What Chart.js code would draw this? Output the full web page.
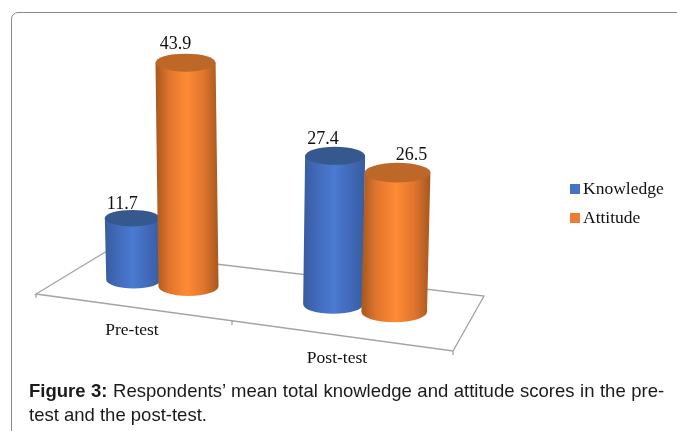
<!DOCTYPE html>
<html>
<head>
<meta charset="utf-8">
<script src="https://cdn.jsdelivr.net/npm/chart.js@4"></script>
<style>
    html, body { margin: 0; background: #fff; overflow: hidden; }
    #card {
        position: absolute; left: 11px; top: 12px; width: 680px; height: 430px;
        border: 1px solid #8a8a8a; border-top-left-radius: 7px;
    }
    #chart { position: absolute; left: 0; top: 0; }
    #caption {
        position: absolute; left: 29px; top: 379px; width: 645px;
        font: 18.5px/24px "Liberation Sans", Arial, sans-serif; color: #1a1a1a; white-space: nowrap;
    }
    #caption span { word-spacing: 0.4px; }
</style>
</head>
<body>
<div id="card"></div>
<canvas id="chart" width="677" height="431"></canvas>
<div id="caption"><span><b>Figure 3:</b> Respondents’ mean total knowledge and attitude scores in the pre-</span><br>test and the post-test.</div>

<script>
const categories = ["Pre-test", "Post-test"];
const knowledge = [11.7, 27.4];
const attitude = [43.9, 26.5];

// [edge, mid, highlight, lid] per series
const shades = [
    ["#385da2", "#4169b8", "#4a7ad2", "#35598f"],
    ["#ad5a20", "#e0752d", "#ff8a35", "#bd6728"]
];
// value label offset from the middle of the lid
const labelOffset = [
    [[-10, -14], [-10, -18]],
    [[-12, -17], [14, -17]]
];
const serif = '"Liberation Serif", "Times New Roman", serif';

const TILT = 0.122;     // floor runs downhill to the right
const ORIGIN_X = 160;   // x where the tilt is zero
const VANISH_X = 260;   // sides of the cylinders lean towards this x
const LEAN = 0.00018;
const SERIES_WIDTH = [0.95, 1.04];
const SERIES_HEIGHT = [1.025, 0.985];

// fake perspective: things further right are closer
function grow(x, k) { return 1 + (x - ORIGIN_X) * k; }

function drawCylinder(ctx, bar, datasetIndex, groupX) {
    const colors = shades[datasetIndex];
    const spread = grow(groupX, 0.0007);
    const cx = groupX + (bar.x - groupX) * spread;
    const w = bar.width * 1.07 * grow(groupX, 0.00045) * SERIES_WIDTH[datasetIndex];
    const h = (bar.base - bar.y) * grow(cx, 0.00015) * SERIES_HEIGHT[datasetIndex];
    const baseY = bar.base + (cx - ORIGIN_X) * TILT;
    const topY = baseY - h;
    const lean = (cx - VANISH_X) * LEAN * h / 2;
    const topX = cx + lean, botX = cx - lean;
    const rx = w / 2, ryTop = w * 0.15, ryBot = w * 0.16;

    const grad = ctx.createLinearGradient(cx - rx, 0, cx + rx, 0);
    grad.addColorStop(0, colors[0]);
    grad.addColorStop(0.2, colors[1]);
    grad.addColorStop(0.5, colors[2]);
    grad.addColorStop(0.78, colors[1]);
    grad.addColorStop(1, colors[0]);

    ctx.beginPath();
    ctx.moveTo(topX - rx, topY);
    ctx.lineTo(botX - rx, baseY);
    ctx.ellipse(botX, baseY, rx, ryBot, 0, Math.PI, 0, true);
    ctx.lineTo(topX + rx, topY);
    ctx.closePath();
    ctx.fillStyle = grad;
    ctx.fill();

    ctx.beginPath();
    ctx.ellipse(topX, topY, rx, ryTop, 0, 0, Math.PI * 2);
    ctx.fillStyle = colors[3];
    ctx.fill();

    return { x: topX, y: topY };
}

const cylinders = {
    id: "cylinders",
    // the native rectangles are replaced by the cylinders below
    beforeDatasetDraw() { return false; },
    beforeDatasetsDraw(chart) {
        const ctx = chart.ctx;
        const xScale = chart.scales.x;

        // floor
        ctx.save();
        ctx.strokeStyle = "#a3a3a3";
        ctx.lineWidth = 1.3;
        ctx.beginPath();
        ctx.moveTo(107, 251);
        ctx.lineTo(36, 294);
        ctx.lineTo(453, 351);
        ctx.lineTo(484, 296);
        ctx.lineTo(107, 251);
        ctx.moveTo(36, 294);
        ctx.lineTo(36, 298);
        ctx.moveTo(232, 321);
        ctx.lineTo(232, 325);
        ctx.moveTo(453, 351);
        ctx.lineTo(453, 355);
        ctx.stroke();
        ctx.restore();

        // cylinders, left to right so the orange one overlaps the blue one
        const tops = [];
        categories.forEach((cat, i) => {
            const groupX = xScale.getPixelForValue(i);
            tops[i] = chart.data.datasets.map((ds, d) =>
                drawCylinder(ctx, chart.getDatasetMeta(d).data[i], d, groupX));
        });

        ctx.save();
        ctx.fillStyle = "#111";
        ctx.font = "18px " + serif;
        ctx.textAlign = "center";
        ctx.textBaseline = "middle";

        // value labels
        chart.data.datasets.forEach((ds, d) => {
            ds.data.forEach((v, i) => {
                const off = labelOffset[i][d];
                ctx.fillText(v.toFixed(1), tops[i][d].x + off[0], tops[i][d].y + off[1]);
            });
        });

        ctx.font = "17.5px " + serif;

        // category labels sit under the front edge of the floor
        categories.forEach((cat, i) => {
            const x = xScale.getPixelForValue(i) - 28;
            const y = 294 + (x - 36) * (57 / 417) + 23.5;
            ctx.fillText(cat, x, y);
        });

        // legend
        ctx.textAlign = "left";
        chart.data.datasets.forEach((ds, d) => {
            const y = 189 + d * 29;
            ctx.fillStyle = ds.backgroundColor;
            ctx.fillRect(570, y - 5, 10, 10);
            ctx.fillStyle = "#111";
            ctx.fillText(ds.label, 583, y);
        });
        ctx.restore();
    }
};

new Chart(document.getElementById("chart"), {
    type: "bar",
    data: {
        labels: categories,
        datasets: [
            { label: "Knowledge", data: knowledge, backgroundColor: "#4472c4" },
            { label: "Attitude", data: attitude, backgroundColor: "#ed7d31" }
        ]
    },
    options: {
        responsive: false,
        animation: false,
        layout: { padding: { left: 57.5, right: 209.5, top: 25.5, bottom: 148 } },
        datasets: { bar: { barPercentage: 1, categoryPercentage: 0.527 } },
        plugins: { legend: { display: false }, tooltip: { enabled: false } },
        scales: {
            x: { display: false },
            y: { display: false, min: 0, max: 50 }
        }
    },
    plugins: [cylinders]
});
</script>
</body>
</html>
